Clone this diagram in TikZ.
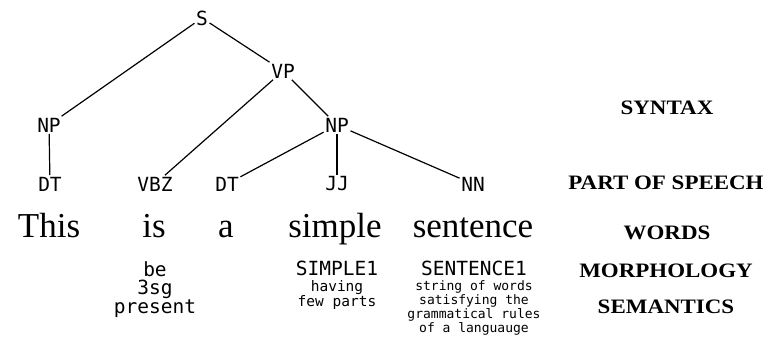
\documentclass[tikz,border=0pt]{standalone}
\usepackage{fontspec}
\setmainfont{Liberation Serif}
\newfontfamily\monofam{DejaVu Sans Mono}
\newfontfamily\levelfont[FakeStretch=1.12]{Liberation Serif}
\begin{document}
\begin{tikzpicture}[x=1pt,y=-1pt,
  tag/.style={font=\monofam\fontsize{19.5}{19.5}\selectfont, inner sep=1.5pt},
  word/.style={font=\fontsize{35}{35}\selectfont, anchor=base, inner sep=0pt},
  morph/.style={font=\monofam\fontsize{19.5}{18.5}\selectfont, align=center, anchor=north, inner sep=0pt},
  lemma/.style={font=\monofam\fontsize{19.5}{19.5}\selectfont, anchor=base, inner sep=0pt},
  sense/.style={font=\monofam\fontsize{14.5}{15}\selectfont, align=center, anchor=north, inner sep=0pt},
  gloss/.style={font=\monofam\fontsize{13}{14.3}\selectfont, align=center, anchor=north, inner sep=0pt},
  level/.style={font=\levelfont\bfseries\fontsize{20.5}{20.5}\selectfont, inner sep=0pt},
  edge/.style={line width=1.2pt}]
\useasboundingbox (0,0) rectangle (769,345);
% tree
\node[tag] (S) at (202,18) {S};
\node[tag] (VP) at (283,71) {VP};
\node[tag] (NP1) at (49,125) {NP};
\node[tag] (NP2) at (337,125) {NP};
\node[tag] (DT1) at (50,184) {DT};
\node[tag] (VBZ) at (155,184) {VBZ};
\node[tag] (DT2) at (227,184) {DT};
\node[tag] (JJ) at (337,184) {JJ};
\node[tag] (NN) at (473,184) {NN};
\draw[edge] (S) -- (NP1);
\draw[edge] (S) -- (VP);
\draw[edge] (VP) -- (VBZ);
\draw[edge] (VP) -- (NP2);
\draw[edge] (NP1) -- (DT1);
\draw[edge] (NP2) -- (DT2);
\draw[edge] (NP2) -- (JJ);
\draw[edge] (NP2) -- (NN);
% words
\node[word] (w1) at (49,237) {This};
\node[word] (w2) at (154,237) {is};
\node[word] (w3) at (226,237) {a};
\node[word] (w4) at (335,237) {simple};
\node[word] (w5) at (473,237) {sentence};
% morphology / semantics
\node[morph] (m2) at (155,261) {be\\3sg\\present};
\node[lemma] (m4) at (337,275) {SIMPLE1};
\node[sense] (s4) at (337,280) {having\\few parts};
\node[lemma] (m5) at (474,275) {SENTENCE1};
\node[gloss] (s5) at (474,280) {string of words\\satisfying the\\grammatical rules\\of a languauge};
% level labels
\node[level] (L1) at (667,108) {SYNTAX};
\node[level] (L2) at (666,183) {PART OF SPEECH};
\node[level] (L3) at (667,233) {WORDS};
\node[level] (L4) at (666,271) {MORPHOLOGY};
\node[level] (L5) at (666,307) {SEMANTICS};
\end{tikzpicture}
\end{document}
